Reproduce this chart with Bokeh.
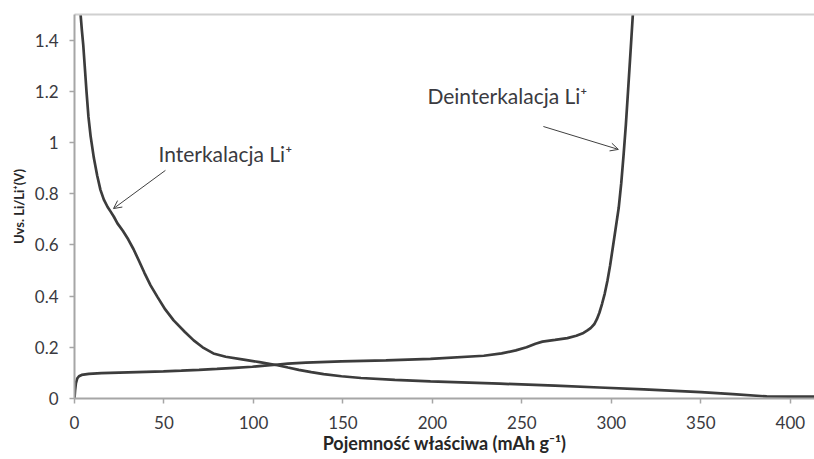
from bokeh.plotting import figure
from bokeh.models import (Range1d, FixedTicker, NumeralTickFormatter, LinearAxis,
                          Label, Arrow, OpenHead)
from bokeh.embed import file_html
from bokeh.resources import INLINE

# Intercalation (discharge) curve
discharge_x = [3.4, 4.1, 4.9, 5.8, 6.7, 7.8, 9, 10.8, 12.7, 14.5, 16.4, 18.5, 20.2, 22,
               24, 27, 30, 33, 36, 39, 42.5, 46.5, 50.7, 55.4, 61.7, 66.6, 71.6, 77.6,
               84.5, 94.5, 103.4, 113.4, 119.3, 125.3, 132.3, 139.2, 149.2, 160.1, 179,
               198.9, 237.7, 268.5, 293.3, 318.2, 350, 367.9, 386.8, 400, 413.5]
discharge_y = [1.5, 1.44, 1.38, 1.29, 1.2, 1.1, 1.025, 0.94, 0.87, 0.815, 0.777, 0.748,
               0.73, 0.71, 0.684, 0.655, 0.622, 0.583, 0.538, 0.492, 0.442, 0.395, 0.348,
               0.305, 0.26, 0.227, 0.2, 0.176, 0.163, 0.152, 0.142, 0.13, 0.121, 0.112,
               0.103, 0.095, 0.087, 0.08, 0.073, 0.067, 0.058, 0.05, 0.043, 0.036, 0.025,
               0.017, 0.008, 0.007, 0.007]

# Deintercalation (charge) curve
charge_x = [0, 0.3, 0.8, 1.5, 2.5, 4, 8, 15, 25, 40, 49.7, 59.7, 69.6, 79.6, 89.5, 99.4,
            109.4, 119.3, 129.3, 149.2, 174, 198.9, 228.7, 238.7, 246.6, 252.6, 257.6,
            261.5, 268.5, 275.4, 280.4, 284.4, 286.4, 288.4, 290.4, 291.9, 293.3, 294.8,
            296.3, 297.8, 299.3, 300.8, 302.3, 304.1, 305.5, 306.8, 308.1, 309.3, 310.3,
            311.2, 312]
charge_y = [0, 0.03, 0.06, 0.078, 0.087, 0.092, 0.096, 0.099, 0.101, 0.104, 0.106, 0.109,
            0.112, 0.116, 0.12, 0.124, 0.13, 0.136, 0.14, 0.145, 0.149, 0.155, 0.167,
            0.176, 0.188, 0.2, 0.214, 0.222, 0.229, 0.236, 0.245, 0.256, 0.265, 0.275,
            0.29, 0.31, 0.335, 0.37, 0.41, 0.46, 0.52, 0.59, 0.66, 0.745, 0.84, 0.95,
            1.07, 1.2, 1.31, 1.41, 1.5]

x_ticks = [0, 50, 100, 150, 200, 250, 300, 350, 400]
y_ticks = [0, 0.2, 0.4, 0.6, 0.8, 1.0, 1.2, 1.4]

x_title = "Pojemność właściwa (mAh g⁻¹)"
y_title = "Uvs. Li/Li⁺(V)"
label_in = "Interkalacja Li⁺"
label_de = "Deinterkalacja Li⁺"

FONT = "Lato"
AXIS_COL = "#a6a6a6"
TEXT_COL = "#3a3a40"

p = figure(width=814, height=459, output_backend="svg", toolbar_location=None,
           x_range=Range1d(0, 413.5), y_range=Range1d(0, 1.5),
           min_border_left=74, min_border_right=0, min_border_top=14,
           min_border_bottom=61, background_fill_color="white",
           border_fill_color="white", outline_line_color=None)
p.grid.visible = False

for ax in (p.xaxis[0], p.yaxis[0]):
    ax.axis_line_color = AXIS_COL
    ax.axis_line_width = 2
    ax.major_tick_line_color = AXIS_COL
    ax.major_tick_line_width = 1.5
    ax.major_tick_in = 0
    ax.major_tick_out = 5
    ax.minor_tick_line_color = None
    ax.major_label_text_font = FONT
    ax.major_label_text_font_size = "17px"
    ax.major_label_text_color = TEXT_COL
    ax.axis_label_text_font = FONT
    ax.axis_label_text_font_style = "bold"
    ax.axis_label_text_color = "#262626"

p.xaxis[0].ticker = FixedTicker(ticks=x_ticks)
p.yaxis[0].ticker = FixedTicker(ticks=y_ticks)
p.yaxis[0].formatter = NumeralTickFormatter(format="0.[0]")
p.xaxis[0].major_label_standoff = 12
p.yaxis[0].major_label_standoff = 11
p.xaxis[0].axis_label = x_title
p.yaxis[0].axis_label = y_title
p.xaxis[0].axis_label_text_font_size = "18px"
p.yaxis[0].axis_label_text_font_size = "13px"
p.xaxis[0].axis_label_standoff = 0
p.yaxis[0].axis_label_standoff = 5

top = LinearAxis(axis_line_color="#d0d0d0", axis_line_width=2,
                 major_tick_line_color=None, minor_tick_line_color=None,
                 major_label_text_font_size="0px", ticker=FixedTicker(ticks=[]))
p.add_layout(top, "above")

p.line(discharge_x, discharge_y, line_color="#3c3c3c", line_width=2.7)
p.line(charge_x, charge_y, line_color="#3c3c3c", line_width=2.7)

p.add_layout(Label(x=46.9, y=0.957, text=label_in, text_font=FONT,
                   text_font_size="21px", text_color=TEXT_COL,
                   text_baseline="middle", text_align="left"))
p.add_layout(Label(x=197.2, y=1.184, text=label_de, text_font=FONT,
                   text_font_size="21px", text_color=TEXT_COL,
                   text_baseline="middle", text_align="left"))

p.add_layout(Arrow(x_start=50.8, y_start=0.891, x_end=21.8, y_end=0.742,
                   line_color="#404040", line_width=1,
                   end=OpenHead(size=8, line_color="#404040", line_width=1)))
p.add_layout(Arrow(x_start=262, y_start=1.0625, x_end=303.9, y_end=0.973,
                   line_color="#404040", line_width=1,
                   end=OpenHead(size=8, line_color="#404040", line_width=1)))

open("out.html", "w").write(file_html(p, INLINE))
